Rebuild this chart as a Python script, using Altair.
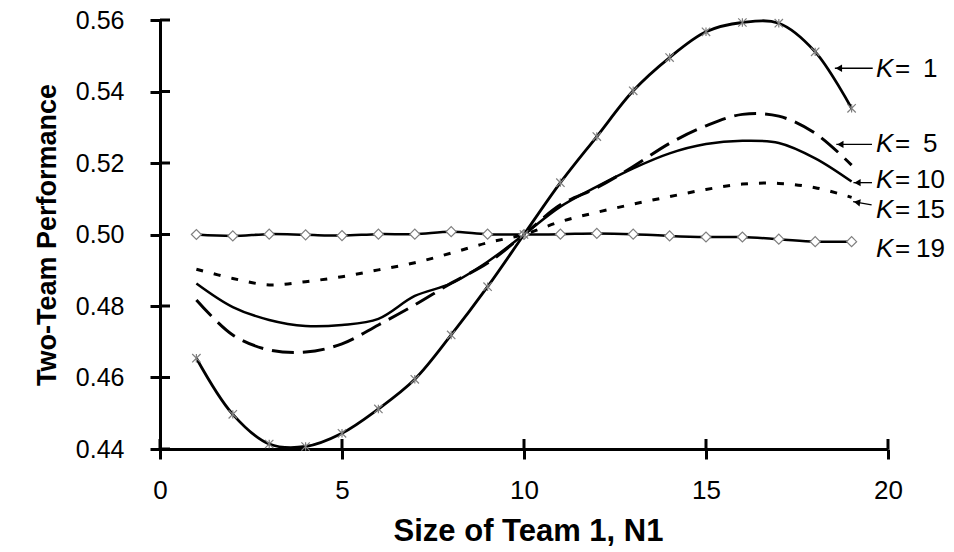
import math
import altair as alt
import pandas as pd

# ---- data ----
n_vals = list(range(1, 20))
k1 = [0.4654, 0.4497, 0.4414, 0.4407, 0.4444, 0.4512, 0.4595, 0.4719, 0.4854, 0.5000,
      0.5145, 0.5274, 0.5402, 0.5495, 0.5567, 0.5593, 0.5591, 0.5511, 0.5353]
k5 = [0.4817, 0.4719, 0.4677, 0.4671, 0.4694, 0.4747, 0.4803, 0.4864, 0.4920, 0.5000,
      0.5083, 0.5131, 0.5190, 0.5255, 0.5304, 0.5336, 0.5331, 0.5283, 0.5194]
k10 = [0.4863, 0.4797, 0.4761, 0.4744, 0.4747, 0.4764, 0.4828, 0.4863, 0.4924, 0.5000,
       0.5078, 0.5134, 0.5185, 0.5227, 0.5253, 0.5262, 0.5256, 0.5213, 0.5148]
k15 = [0.4903, 0.4877, 0.4859, 0.4868, 0.4882, 0.4901, 0.4921, 0.4948, 0.4977, 0.5000,
       0.5036, 0.5062, 0.5085, 0.5106, 0.5126, 0.5141, 0.5143, 0.5131, 0.5104]
k19 = [0.5000, 0.4996, 0.5001, 0.4999, 0.4997, 0.5001, 0.5001, 0.5008, 0.5001, 0.5000,
       0.5001, 0.5003, 0.5001, 0.4996, 0.4993, 0.4993, 0.4987, 0.4980, 0.4980]

x_ticks = [0, 5, 10, 15, 20]
y_ticks = [0.44, 0.46, 0.48, 0.50, 0.52, 0.54, 0.56]

# annotation labels (data coordinates)
lab_k = ["1", "5", "10", "15", "19"]
lab_y = [0.5441, 0.5232, 0.5129, 0.5046, 0.4938]
lab_x = 19.67

# arrows (head -> tail), data coordinates
arr_head_x = [18.54, 18.58, 19.05, 19.04]
arr_head_y = [0.5465, 0.5252, 0.5145, 0.5092]
arr_tail_x = [19.58, 19.56, 19.56, 19.55]
arr_tail_y = [0.5465, 0.5252, 0.5145, 0.5083]

W, H = 728, 429
XDOM = [0, 20]
YDOM = [0.44, 0.56]
FONT = "Liberation Sans"

xs = alt.Scale(domain=XDOM, nice=False, zero=False)
ys = alt.Scale(domain=YDOM, nice=False, zero=False)

def series_df(vals):
    return pd.DataFrame({"n": n_vals, "v": vals})

X = alt.X("n:Q", scale=xs, axis=alt.Axis(
    values=x_ticks, title="Size of Team 1, N1", grid=False, labelFlush=False,
    labelFont=FONT, labelFontSize=26, labelColor="black", labelPadding=18,
    tickSize=10, tickWidth=3, tickColor="black",
    domainWidth=3, domainColor="black",
    titleFont=FONT, titleFontSize=31, titleFontWeight="bold", titleColor="black",
    titleX=368, titleY=91, titleBaseline="alphabetic", titleAlign="center"))
Y = alt.Y("v:Q", scale=ys, axis=alt.Axis(
    values=y_ticks, format=".2f", title="Two-Team Performance", grid=False, labelFlush=False,
    labelFont=FONT, labelFontSize=25, labelColor="black", labelPadding=26,
    tickSize=10, tickWidth=3, tickColor="black",
    domainWidth=3, domainColor="black",
    titleFont=FONT, titleFontSize=27, titleFontWeight="bold", titleColor="black",
    titleX=-105, titleY=H / 2, titleAngle=270, titleBaseline="alphabetic", titleAlign="center"))

Xn = alt.X("n:Q", scale=xs)
Yn = alt.Y("v:Q", scale=ys)

layers = []

# K=15 dotted
layers.append(alt.Chart(series_df(k15)).mark_line(
    interpolate="catmull-rom", color="black", strokeWidth=3, strokeDash=[7, 11]
).encode(x=X, y=Y))
# K=10 solid
layers.append(alt.Chart(series_df(k10)).mark_line(
    interpolate="catmull-rom", color="black", strokeWidth=2.5
).encode(x=Xn, y=Yn))
# K=5 dashed
layers.append(alt.Chart(series_df(k5)).mark_line(
    interpolate="catmull-rom", color="black", strokeWidth=3, strokeDash=[22, 9]
).encode(x=Xn, y=Yn))
# K=19 with diamonds
layers.append(alt.Chart(series_df(k19)).mark_line(
    interpolate="catmull-rom", color="black", strokeWidth=2.5
).encode(x=Xn, y=Yn))
layers.append(alt.Chart(series_df(k19)).mark_point(
    shape="diamond", size=100, filled=True, fill="white", stroke="#7f7f7f",
    strokeWidth=1.2, opacity=1
).encode(x=Xn, y=Yn))
# K=1 with asterisks
layers.append(alt.Chart(series_df(k1)).mark_line(
    interpolate="catmull-rom", color="black", strokeWidth=2.8
).encode(x=Xn, y=Yn))
layers.append(alt.Chart(series_df(k1)).mark_point(
    shape="M-1,-1L1,1M-1,1L1,-1M0,-1L0,1", size=70, filled=False,
    stroke="#7f7f7f", strokeWidth=1.2, opacity=1
).encode(x=Xn, y=Yn))

# inner halves of the crossing ticks
layers.append(alt.Chart(pd.DataFrame({"v": y_ticks})).mark_rule(
    color="black", strokeWidth=3
).encode(y=Yn, x=alt.value(0), x2=alt.value(10)))
layers.append(alt.Chart(pd.DataFrame({"n": x_ticks})).mark_rule(
    color="black", strokeWidth=3
).encode(x=Xn, y=alt.value(H - 10), y2=alt.value(H)))

# arrows
PXX = W / (XDOM[1] - XDOM[0])
PXY = H / (YDOM[1] - YDOM[0])
arr = pd.DataFrame({"hx": arr_head_x, "hy": arr_head_y, "tx": arr_tail_x, "ty": arr_tail_y})
cx, cy, ang = [], [], []
for hx, hy, tx, ty in zip(arr_head_x, arr_head_y, arr_tail_x, arr_tail_y):
    dxp = (tx - hx) * PXX
    dyp = -(ty - hy) * PXY
    L = math.hypot(dxp, dyp)
    off = 4.0
    cx.append(hx + dxp / L * off / PXX)
    cy.append(hy - dyp / L * off / PXY)
    ang.append(math.degrees(math.atan2(dyp, dxp)))
arr["cx"], arr["cy"], arr["ang"] = cx, cy, ang

layers.append(alt.Chart(arr).mark_rule(color="black", strokeWidth=1.3).encode(
    x=alt.X("hx:Q", scale=xs), y=alt.Y("hy:Q", scale=ys),
    x2="tx:Q", y2="ty:Q"))
layers.append(alt.Chart(arr).mark_point(
    shape="triangle-left", size=55, filled=True, color="black", opacity=1, strokeWidth=0
).encode(x=alt.X("cx:Q", scale=xs), y=alt.Y("cy:Q", scale=ys),
         angle=alt.Angle("ang:Q", scale=None)))

# labels "K= n"
lab = pd.DataFrame({"x": [lab_x] * len(lab_k), "y": lab_y, "num": lab_k})
base_lab = alt.Chart(lab).encode(x=alt.X("x:Q", scale=xs), y=alt.Y("y:Q", scale=ys))
layers.append(base_lab.mark_text(
    align="left", baseline="alphabetic", font=FONT, fontSize=26,
    fontStyle="italic", color="black", text="K"))
layers.append(base_lab.mark_text(
    align="left", baseline="alphabetic", font=FONT, fontSize=26,
    color="black", dx=19, text="="))
layers.append(base_lab.transform_filter("length(datum.num) == 2").mark_text(
    align="left", baseline="alphabetic", font=FONT, fontSize=26,
    color="black", dx=40).encode(text="num:N"))
layers.append(base_lab.transform_filter("length(datum.num) == 1").mark_text(
    align="left", baseline="alphabetic", font=FONT, fontSize=26,
    color="black", dx=47).encode(text="num:N"))

chart = alt.layer(*layers).properties(
    width=W, height=H,
    autosize=alt.AutoSizeParams(type="none"),
    padding={"left": 160, "top": 20, "right": 66, "bottom": 103},
    background="white",
).configure_view(strokeWidth=0)

chart.save("out.html", embed_options={"renderer": "svg", "actions": False})
